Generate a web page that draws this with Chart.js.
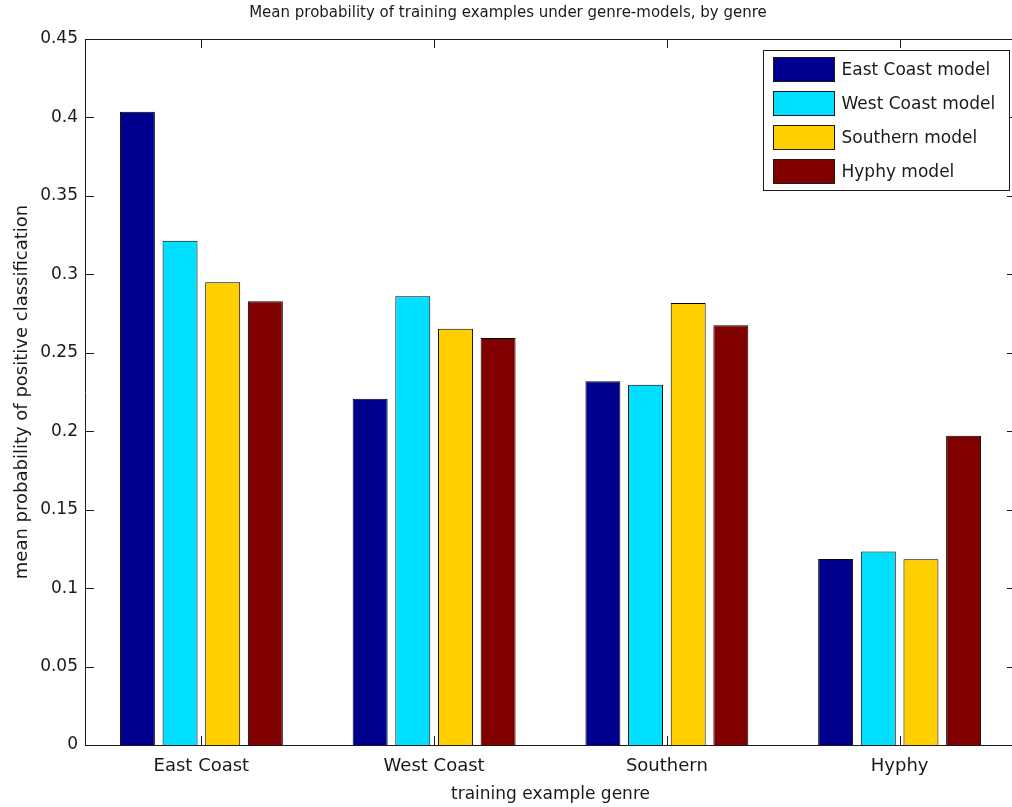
<!DOCTYPE html>
<html>
<head>
<meta charset="utf-8">
<script src="https://cdn.jsdelivr.net/npm/chart.js@4"></script>
<style>
	html, body { margin: 0; padding: 0; background: #fff; overflow: hidden; }
	#chart { display: block; }
</style>
</head>
<body>
<canvas id="chart" width="1030" height="807"></canvas>
<script>
const genres = ["East Coast", "West Coast", "Southern", "Hyphy"];
const modelNames = ["East Coast model", "West Coast model", "Southern model", "Hyphy model"];
const modelColors = ["#00008f", "#00dfff", "#ffcf00", "#800000"];

const eastCoastModel = [0.4036, 0.2207, 0.2318, 0.1185];
const westCoastModel = [0.3214, 0.286, 0.2296, 0.1234];
const southernModel = [0.2949, 0.2653, 0.2817, 0.1184];
const hyphyModel = [0.2828, 0.2594, 0.2675, 0.1971];

const yTicks = [0, 0.05, 0.1, 0.15, 0.2, 0.25, 0.3, 0.35, 0.4, 0.45];

const FONT = "'DejaVu Sans', sans-serif";
const INK = "#1a1a1a";

// matlab style box with inward ticks + legend in the corner
const matlabBox = {
	id: "matlabBox",
	afterDatasetsDraw(chart) {
		const ctx = chart.ctx;
		const a = chart.chartArea;
		const x = chart.scales.x;
		const y = chart.scales.y;
		ctx.save();
		ctx.strokeStyle = INK;
		ctx.lineWidth = 1;
		ctx.beginPath();
		ctx.rect(Math.round(a.left) + 0.5, Math.round(a.top) + 0.5, Math.round(a.right - a.left), Math.round(a.bottom - a.top));
		yTicks.forEach((v) => {
			const py = Math.round(y.getPixelForValue(v)) + 0.5;
			ctx.moveTo(a.left, py);
			ctx.lineTo(a.left + 9, py);
			ctx.moveTo(a.right, py);
			ctx.lineTo(a.right - 9, py);
		});
		genres.forEach((g, i) => {
			const px = Math.round(x.getPixelForValue(i)) + 0.5;
			ctx.moveTo(px, a.bottom);
			ctx.lineTo(px, a.bottom - 9);
			ctx.moveTo(px, a.top);
			ctx.lineTo(px, a.top + 9);
		});
		ctx.stroke();

		// legend
		const lx = 763.5, ly = 50.5, lw = 246, lh = 140;
		ctx.fillStyle = "#fff";
		ctx.fillRect(lx, ly, lw, lh);
		ctx.strokeRect(lx, ly, lw, lh);
		ctx.font = "17px " + FONT;
		ctx.textBaseline = "middle";
		chart.data.datasets.forEach((ds, i) => {
			const rowY = ly + 19 + i * 34;
			ctx.fillStyle = ds.backgroundColor;
			ctx.fillRect(lx + 10, rowY - 12, 61, 24);
			ctx.strokeRect(lx + 10, rowY - 12, 61, 24);
			ctx.fillStyle = INK;
			ctx.fillText(ds.label, lx + 78, rowY + 1);
		});
		ctx.restore();
	},
};

const seriesValues = [eastCoastModel, westCoastModel, southernModel, hyphyModel];

new Chart(document.getElementById("chart"), {
	type: "bar",
	data: {
		labels: genres,
		datasets: seriesValues.map((vals, i) => ({
			label: modelNames[i],
			data: vals,
			backgroundColor: modelColors[i],
			borderColor: "#000",
			borderWidth: 1,
			categoryPercentage: 0.733,
			barPercentage: 0.82,
		})),
	},
	options: {
		responsive: false,
		animation: false,
		layout: { padding: { left: 0, right: 14, top: 0, bottom: 0 } },
		plugins: {
			legend: { display: false },
			tooltip: { enabled: false },
			title: {
				display: true,
				text: "Mean probability of training examples under genre-models, by genre",
				color: INK,
				font: { family: FONT, size: 15, weight: "normal" },
				padding: { top: 4, bottom: 17 },
			},
		},
		scales: {
			x: {
				grid: { display: false, drawTicks: false },
				border: { display: false },
				ticks: { color: INK, font: { family: FONT, size: 18 }, padding: 11 },
				title: {
					display: true,
					text: "training example genre",
					color: INK,
					font: { family: FONT, size: 17 },
					padding: { top: 0, bottom: 2 },
				},
				afterFit(scale) {
					scale.height = 62;
				},
			},
			y: {
				min: 0,
				max: 0.45,
				grid: { display: false, drawTicks: false },
				border: { display: false },
				afterBuildTicks(scale) {
					scale.ticks = yTicks.map((v) => ({ value: v }));
				},
				ticks: {
					color: INK,
					font: { family: FONT, size: 17 },
					padding: 7,
					callback: (v) => String(+v.toFixed(2)),
				},
				title: {
					display: true,
					text: "mean probability of positive classification",
					color: INK,
					font: { family: FONT, size: 18 },
					padding: { top: 12, bottom: 0 },
				},
				afterFit(scale) {
					scale.width = 85;
				},
			},
		},
	},
	plugins: [matlabBox],
});
</script>
</body>
</html>
